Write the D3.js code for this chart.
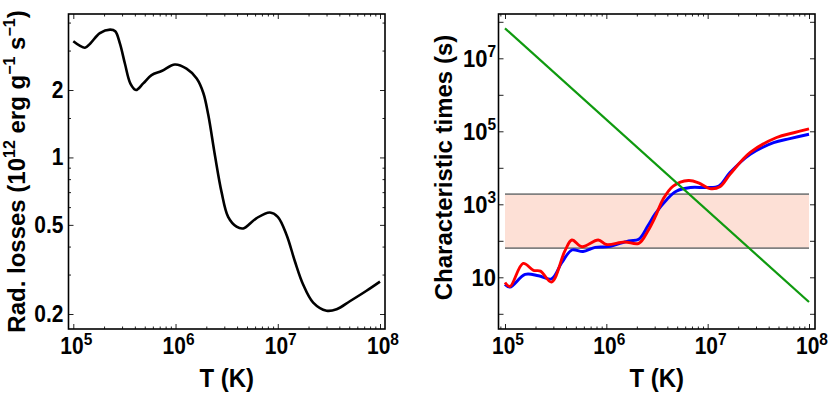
<!DOCTYPE html>
<html lang="en">
<head>
<meta charset="UTF-8">
<title>Radiative losses and characteristic times</title>
<script src="https://cdn.jsdelivr.net/npm/d3@7"></script>
<style>
  body { margin: 0; background: #fff; }
  text { font-family: "Liberation Sans", Arial, sans-serif; font-weight: bold; fill: #000; }
</style>
</head>
<body>
<svg id="chart" width="830" height="394"></svg>
<script>
// left panel: radiative losses (10^12 erg g^-1 s^-1) vs T (K)
const lossT = [1.0e5, 1.30e5, 1.46e5, 1.82e5, 2.29e5, 2.57e5, 2.86e5, 3.20e5, 3.63e5, 4.10e5,
  4.83e5, 5.83e5, 7.31e5, 9.86e5, 1.28e6, 1.61e6, 1.87e6, 2.09e6, 2.43e6, 2.82e6,
  3.27e6, 3.95e6, 4.59e6, 6.17e6, 8.38e6, 1.0e7, 1.22e7, 1.47e7, 1.77e7, 2.22e7,
  3.00e7, 3.76e7, 5.07e7, 7.38e7, 1.0e8];
const lossVal = [3.30, 3.09, 3.22, 3.59, 3.72, 3.66, 3.22, 2.62, 2.13, 2.00,
  2.14, 2.33, 2.43, 2.60, 2.49, 2.25, 1.94, 1.55, 1.02, 0.70,
  0.543, 0.491, 0.482, 0.535, 0.568, 0.543, 0.451, 0.344, 0.271, 0.225,
  0.207, 0.210, 0.228, 0.254, 0.279];

// right panel: characteristic times (s) vs T (K)
const blueT = [1.0e5, 1.12e5, 1.58e5, 2.14e5, 2.88e5, 3.63e5, 4.57e5, 5.89e5, 7.76e5, 1.05e6,
  1.66e6, 2.09e6, 2.57e6, 3.02e6, 3.98e6, 4.90e6, 6.76e6, 9.77e6, 1.29e7, 1.66e7,
  2.63e7, 4.47e7, 6.46e7, 1.0e8];
const blueTime = [6.4, 5.4, 12.0, 11.0, 9.1, 25, 56, 51, 66, 69,
  100, 110, 257, 537, 1380, 2290, 2880, 2880, 3160, 7410,
  23400, 49000, 63000, 83000];

const redT = [1.0e5, 1.12e5, 1.51e5, 1.91e5, 2.24e5, 2.88e5, 3.89e5, 4.57e5, 5.75e5, 8.32e5,
  1.0e6, 1.51e6, 2.09e6, 2.57e6, 3.02e6, 3.63e6, 4.57e6, 6.46e6, 8.13e6, 1.05e7,
  1.32e7, 1.66e7, 2.63e7, 4.79e7, 7.08e7, 1.0e8];
const redTime = [7.2, 5.6, 24, 15.5, 14.8, 7.4, 52, 105, 69, 105,
  79, 93, 85, 186, 437, 1380, 3160, 4470, 3890, 2690,
  3020, 6610, 26300, 67600, 91200, 117000];

const greenT = [1.0e5, 1.0e8];
const greenTime = [6.6e7, 2.1];

const bandT = [1.0e5, 1.0e8];
const bandLow = 63;
const bandHigh = 1900;

// ticks
const xMajor = [1e5, 1e6, 1e7, 1e8];
const xLabels = [["10", "5"], ["10", "6"], ["10", "7"], ["10", "8"]];
const xMinor = [2e4, 3e4, 4e4, 5e4, 6e4, 7e4, 8e4, 9e4,
  2e5, 3e5, 4e5, 5e5, 6e5, 7e5, 8e5, 9e5,
  2e6, 3e6, 4e6, 5e6, 6e6, 7e6, 8e6, 9e6,
  2e7, 3e7, 4e7, 5e7, 6e7, 7e7, 8e7, 9e7];
const lossMajor = [0.2, 0.5, 1, 2];
const lossLabels = ["0.2", "0.5", "1", "2"];
const lossMinor = [0.3, 0.4, 0.6, 0.7, 0.8, 0.9, 1.5, 3, 4];
const timeMajor = [1, 10, 100, 1e3, 1e4, 1e5, 1e6, 1e7, 1e8];
const timeLabelVals = [10, 1e3, 1e5, 1e7];
const timeLabels = [["10", ""], ["10", "3"], ["10", "5"], ["10", "7"]];

const svg = d3.select("#chart");

// frame boxes
const left = { x0: 68.5, x1: 385, y0: 14, y1: 329 };
const right = { x0: 498.5, x1: 815, y0: 14, y1: 329 };

const xL = d3.scaleLog().domain([1e5, 1e8]).range([73.3, 380]);
const yL = d3.scaleLog().domain([0.2, 2]).range([314, 90]);
const xR = d3.scaleLog().domain([1e5, 1e8]).range([505, 809]);
const yR = d3.scaleLog().domain([10, 1e7]).range([277.3, 58.3]);

// the original glyphs are a bit taller than wide
const STRETCH = 1.1;

function inside(v, a, b) { return v > a + 0.5 && v < b - 0.5; }

// draws inward ticks on all four sides of a frame
function frameTicks(box, x, y, xMaj, xMin, yMaj, yMin) {
    const g = svg.append("g");
    const add = (axis, tr) => {
        const a = g.append("g").attr("transform", tr).call(axis);
        a.select(".domain").remove();
        a.selectAll("line").attr("stroke", "#222").attr("stroke-width", 1);
    };
    const xM = xMaj.filter(v => inside(x(v), box.x0, box.x1));
    const xm = xMin.filter(v => inside(x(v), box.x0, box.x1));
    const yM = yMaj.filter(v => inside(y(v), box.y0, box.y1));
    const ym = yMin.filter(v => inside(y(v), box.y0, box.y1));

    add(d3.axisBottom(x).tickValues(xM).tickSize(-5).tickFormat(""), `translate(0,${box.y1})`);
    add(d3.axisBottom(x).tickValues(xm).tickSize(-2.5).tickFormat(""), `translate(0,${box.y1})`);
    add(d3.axisTop(x).tickValues(xM).tickSize(-5).tickFormat(""), `translate(0,${box.y0})`);
    add(d3.axisTop(x).tickValues(xm).tickSize(-2.5).tickFormat(""), `translate(0,${box.y0})`);
    add(d3.axisLeft(y).tickValues(yM).tickSize(-5).tickFormat(""), `translate(${box.x0},0)`);
    add(d3.axisLeft(y).tickValues(ym).tickSize(-2.5).tickFormat(""), `translate(${box.x0},0)`);
    add(d3.axisRight(y).tickValues(yM).tickSize(-5).tickFormat(""), `translate(${box.x1},0)`);
    add(d3.axisRight(y).tickValues(ym).tickSize(-2.5).tickFormat(""), `translate(${box.x1},0)`);
}

function frame(box) {
    svg.append("rect")
        .attr("x", box.x0).attr("y", box.y0)
        .attr("width", box.x1 - box.x0).attr("height", box.y1 - box.y0)
        .attr("fill", "none").attr("stroke", "#000").attr("stroke-width", 1.6);
}

// horizontal text placed at (x, y) with a slight vertical stretch
function hText(x, y, size, anchor) {
    return svg.append("text")
        .attr("transform", `translate(${x},${y}) scale(1,${STRETCH})`)
        .attr("text-anchor", anchor).attr("font-size", size);
}

function powLabel(sel, base, exp) {
    sel.append("tspan").text(base);
    if (exp) sel.append("tspan").attr("font-size", 15.5).attr("dy", -8.5).text(exp);
}

function xTickLabels(x) {
    xMajor.forEach((v, i) => {
        const t = hText(x(v) + 3, 354, 21, "middle");
        powLabel(t, xLabels[i][0], xLabels[i][1]);
    });
}

const line = (x, y) => d3.line().x(d => x(d[0])).y(d => y(d[1])).curve(d3.curveCatmullRom.alpha(0.5));

// ---------- left panel ----------
frameTicks(left, xL, yL, xMajor, xMinor, lossMajor, lossMinor);

svg.append("path")
    .datum(d3.zip(lossT, lossVal))
    .attr("fill", "none").attr("stroke", "#000").attr("stroke-width", 2.6)
    .attr("stroke-linejoin", "round")
    .attr("d", line(xL, yL));

frame(left);
xTickLabels(xL);

lossMajor.forEach((v, i) => {
    hText(63.5, yL(v) + 8, 21, "end").text(lossLabels[i]);
});

hText((left.x0 + left.x1) / 2, 387, 24, "middle").text("T (K)");

const ttl = svg.append("text")
    .attr("transform", `translate(25,${(left.y0 + left.y1) / 2}) rotate(-90)`)
    .attr("text-anchor", "middle").attr("font-size", 24);
ttl.append("tspan").text("Rad. losses (10");
ttl.append("tspan").attr("font-size", 16).attr("dy", -10).text("12");
ttl.append("tspan").attr("dy", 10).text(" erg g");
ttl.append("tspan").attr("font-size", 16).attr("dy", -10).text("\u22121");
ttl.append("tspan").attr("dy", 10).text(" s");
ttl.append("tspan").attr("font-size", 16).attr("dy", -10).text("\u22121");
ttl.append("tspan").attr("dy", 10).text(")");

// ---------- right panel ----------
svg.append("rect")
    .attr("x", xR(bandT[0])).attr("y", yR(bandHigh))
    .attr("width", xR(bandT[1]) - xR(bandT[0]))
    .attr("height", yR(bandLow) - yR(bandHigh))
    .attr("fill", "#fde0d6");

[bandLow, bandHigh].forEach(v => {
    svg.append("line")
        .attr("x1", xR(bandT[0])).attr("x2", xR(bandT[1]))
        .attr("y1", yR(v)).attr("y2", yR(v))
        .attr("stroke", "#808080").attr("stroke-width", 1.8);
});

frameTicks(right, xR, yR, xMajor, xMinor, timeMajor, []);

svg.append("path")
    .datum(d3.zip(blueT, blueTime))
    .attr("fill", "none").attr("stroke", "#0000ff").attr("stroke-width", 2.9)
    .attr("stroke-linejoin", "round")
    .attr("d", line(xR, yR));

svg.append("path")
    .datum(d3.zip(redT, redTime))
    .attr("fill", "none").attr("stroke", "#ff0000").attr("stroke-width", 2.9)
    .attr("stroke-linejoin", "round")
    .attr("d", line(xR, yR));

svg.append("path")
    .datum(d3.zip(greenT, greenTime))
    .attr("fill", "none").attr("stroke", "#0f9a0f").attr("stroke-width", 2.2)
    .attr("d", d3.line().x(d => xR(d[0])).y(d => yR(d[1])));

frame(right);
xTickLabels(xR);

timeLabelVals.forEach((v, i) => {
    const t = hText(496, yR(v) + 8.5, 22, "end");
    powLabel(t, timeLabels[i][0], timeLabels[i][1]);
});

hText((right.x0 + right.x1) / 2, 387, 24, "middle").text("T (K)");

svg.append("text")
    .attr("transform", `translate(452,${(right.y0 + right.y1) / 2 - 4}) rotate(-90)`)
    .attr("text-anchor", "middle").attr("font-size", 24)
    .text("Characteristic times (s)");
</script>
</body>
</html>
